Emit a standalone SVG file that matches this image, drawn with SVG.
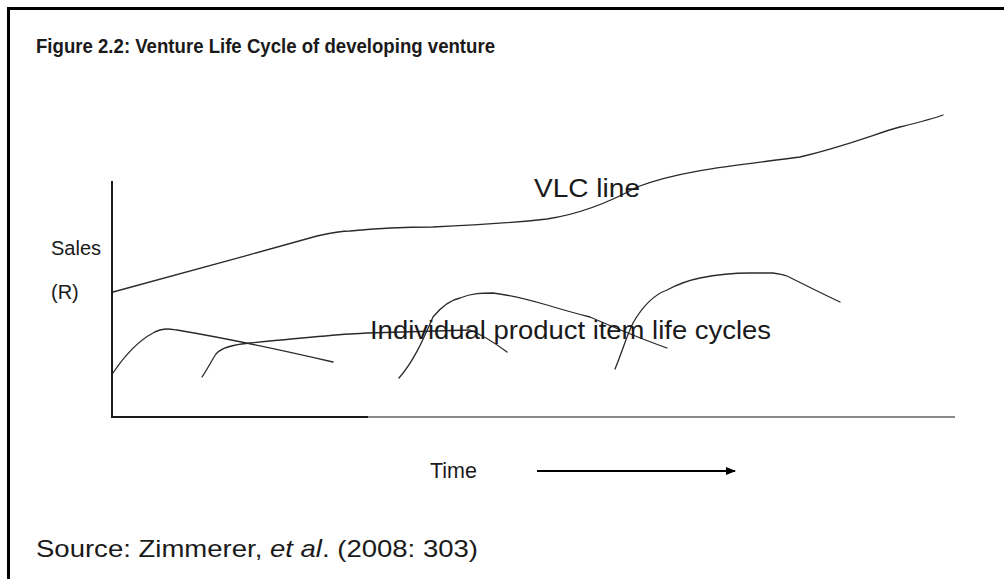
<svg xmlns="http://www.w3.org/2000/svg" width="1004" height="579" viewBox="0 0 1004 579">
<style>
  .t { font-family: "Liberation Sans", Arial, sans-serif; fill: #1a1a1a; }
  .curve { fill: none; stroke: #2a2a2a; stroke-width: 1.3; stroke-linecap: round; stroke-linejoin: round; }
  .axis { fill: none; stroke: #1a1a1a; stroke-width: 2; }
</style>
<defs>
  <marker id="ah" markerWidth="10" markerHeight="10" refX="9" refY="5" orient="auto" markerUnits="userSpaceOnUse">
    <path d="M0,1 L10,5 L0,9 Z" fill="#000"/>
  </marker>
</defs>
<rect width="1004" height="579" fill="#fff"/>
<path d="M8.5,579 L8.5,8.5 L1004,8.5" fill="none" stroke="#000" stroke-width="3"/>
<g id="title"><text class="t" x="36" y="53" font-size="19.5" font-weight="bold" textLength="459" lengthAdjust="spacingAndGlyphs">Figure 2.2: Venture Life Cycle of developing venture</text></g>
<g id="axes">
  <line class="axis" x1="112" y1="181" x2="112" y2="418"/>
  <line class="axis" x1="111" y1="417" x2="368" y2="417"/>
  <line x1="368" y1="417" x2="955" y2="417" stroke="#8a8a8a" stroke-width="2"/>
</g>
<g id="ylabel">
  <text class="t" x="51" y="255" font-size="20">Sales</text>
  <text class="t" x="51" y="299" font-size="20">(R)</text>
</g>
<g id="connectors">
  <path id="vlc" class="curve" d="M113,292 C160,279 250,255 317,236 C335,232 342,231 350,231 C380,228 410,227 433,227 C480,225 520,222 547,219 C580,214 610,202 637,187 C680,170 740,165 800,157 C850,145 880,132 900,127 C920,122 935,118 943,115"/>
  <path id="pc1" class="curve" d="M113,373 C125,355 140,340 153,333 C158,330 162,329 168,329 C172,329 175,330 177,330 C230,339 290,352 333,362"/>
  <path id="pc2" class="curve" d="M202,377 C208,368 212,360 216,354 C220,349 228,345 250,343 C300,338 340,334 367,333 C400,332 440,331 470,330 C480,334 495,343 507,352"/>
  <path id="pc3" class="curve" d="M399,378 C415,360 425,335 433,317 C442,306 450,300 460,298 C472,293 482,293 493,293 C510,295 530,300 547,305 C570,312 590,317 590,317 C620,330 650,342 667,348"/>
  <path id="pc4" class="curve" d="M615,369 C622,352 627,335 633,323 C645,302 656,294 667,290 C680,283 690,280 700,278 C720,274 735,273 750,273 C760,273 767,273 773,273 C780,274 784,275 787,276 C805,285 825,295 840,302"/>
  <line x1="537" y1="471" x2="735" y2="471" stroke="#000" stroke-width="2" marker-end="url(#ah)"/>
</g>
<g id="vlc-label"><text class="t" x="534" y="197" font-size="25" textLength="106" lengthAdjust="spacingAndGlyphs">VLC line</text></g>
<g id="plc-label"><text class="t" x="370" y="339" font-size="25" textLength="401" lengthAdjust="spacingAndGlyphs">Individual product item life cycles</text></g>
<g id="xlabel"><text class="t" x="430" y="478" font-size="22" textLength="47" lengthAdjust="spacingAndGlyphs">Time</text></g>
<g id="source"><text class="t" x="36" y="557" font-size="24" textLength="442" lengthAdjust="spacingAndGlyphs">Source: Zimmerer, <tspan font-style="italic">et al</tspan>. (2008: 303)</text></g>
</svg>
